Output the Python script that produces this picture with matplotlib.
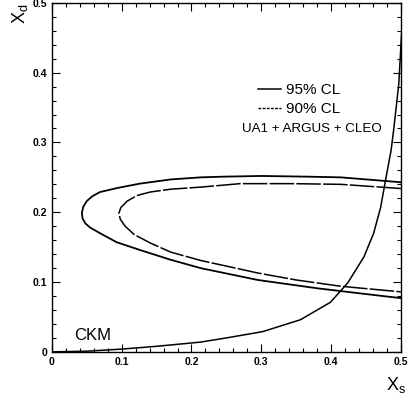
import matplotlib
matplotlib.use('Agg')
import matplotlib.pyplot as plt
from matplotlib.lines import Line2D
from matplotlib.ticker import MultipleLocator

plt.rcParams['font.family'] = ['Liberation Sans', 'DejaVu Sans']
plt.rcParams['mathtext.fontset'] = 'custom'
plt.rcParams['mathtext.rm'] = 'Liberation Sans'

# 95% CL contour (outer), traced from upper right round the tip to lower right
cl95_x = [0.500, 0.414, 0.366, 0.300, 0.246, 0.213, 0.170, 0.126, 0.095, 0.069,
          0.058, 0.050, 0.045, 0.043, 0.044, 0.048, 0.055, 0.069, 0.093, 0.126,
          0.170, 0.213, 0.295, 0.381, 0.440, 0.500]
cl95_y = [0.243, 0.250, 0.251, 0.252, 0.251, 0.250, 0.247, 0.241, 0.235, 0.229,
          0.223, 0.216, 0.208, 0.199, 0.191, 0.184, 0.178, 0.170, 0.157, 0.146,
          0.132, 0.120, 0.103, 0.091, 0.084, 0.077]

# 90% CL contour (inner)
cl90_x = [0.500, 0.414, 0.342, 0.270, 0.213, 0.170, 0.141, 0.122, 0.108, 0.099,
          0.096, 0.098, 0.105, 0.118, 0.141, 0.170, 0.213, 0.295, 0.350, 0.414,
          0.500]
cl90_y = [0.234, 0.240, 0.241, 0.241, 0.236, 0.233, 0.229, 0.224, 0.216, 0.207,
          0.199, 0.190, 0.180, 0.168, 0.156, 0.143, 0.131, 0.113, 0.103, 0.094,
          0.086]

# CKM relation between x_s and x_d
ckm_x = [0.0, 0.05, 0.10, 0.15, 0.213, 0.25, 0.302, 0.356, 0.399, 0.424,
         0.447, 0.461, 0.471, 0.478, 0.486, 0.490, 0.497, 0.501]
ckm_y = [0.0, 0.001, 0.004, 0.008, 0.014, 0.020, 0.029, 0.046, 0.071, 0.099,
         0.136, 0.170, 0.207, 0.246, 0.289, 0.321, 0.384, 0.456]

fig = plt.figure(figsize=(4.15, 4.04), dpi=100)
ax = fig.add_axes([0.125, 0.129, 0.841, 0.864])

ax.plot(cl95_x, cl95_y, color='black', lw=1.3)
ax.plot(cl90_x, cl90_y, color='black', lw=1.1, ls=(0, (16, 1.5)))
ax.plot(ckm_x, ckm_y, color='black', lw=1.1)

ax.set_xlim(0, 0.5)
ax.set_ylim(0, 0.5)
ax.xaxis.set_major_locator(MultipleLocator(0.1))
ax.yaxis.set_major_locator(MultipleLocator(0.1))
ax.xaxis.set_minor_locator(MultipleLocator(0.02))
ax.yaxis.set_minor_locator(MultipleLocator(0.02))
ax.tick_params(which='both', direction='in', top=True, right=True,
               labelsize=7.5, width=0.8)
ax.tick_params(which='major', length=6)
ax.tick_params(which='minor', length=3)
ax.xaxis.set_major_formatter(lambda v, p: '0' if v == 0 else f'{v:.1f}')
ax.yaxis.set_major_formatter(lambda v, p: '0' if v == 0 else f'{v:.1f}')
for lab in ax.get_xticklabels() + ax.get_yticklabels():
    lab.set_fontweight('bold')
for s in ax.spines.values():
    s.set_linewidth(1.0)

handles = [Line2D([], [], color='black', lw=1.1),
           Line2D([], [], color='black', lw=1.0, ls=(0, (2, 1)))]
ax.legend(handles, ['95% CL', '90% CL'], loc='upper left',
          bbox_to_anchor=(0.56, 0.80), frameon=False, fontsize=11,
          handlelength=1.5, handletextpad=0.3, labelspacing=0.3,
          borderpad=0.2)
ax.text(0.272, 0.319, 'UA1 + ARGUS + CLEO', fontsize=9.6, va='center')
ax.text(0.032, 0.023, 'CKM', fontsize=12, va='center')

fig.text(0.93, 0.035, r'$\mathrm{X_s}$', fontsize=13)
fig.text(0.025, 0.99, r'$\mathrm{X_d}$', fontsize=13, rotation=90, va='top')

fig.savefig('out.png', dpi=100)
